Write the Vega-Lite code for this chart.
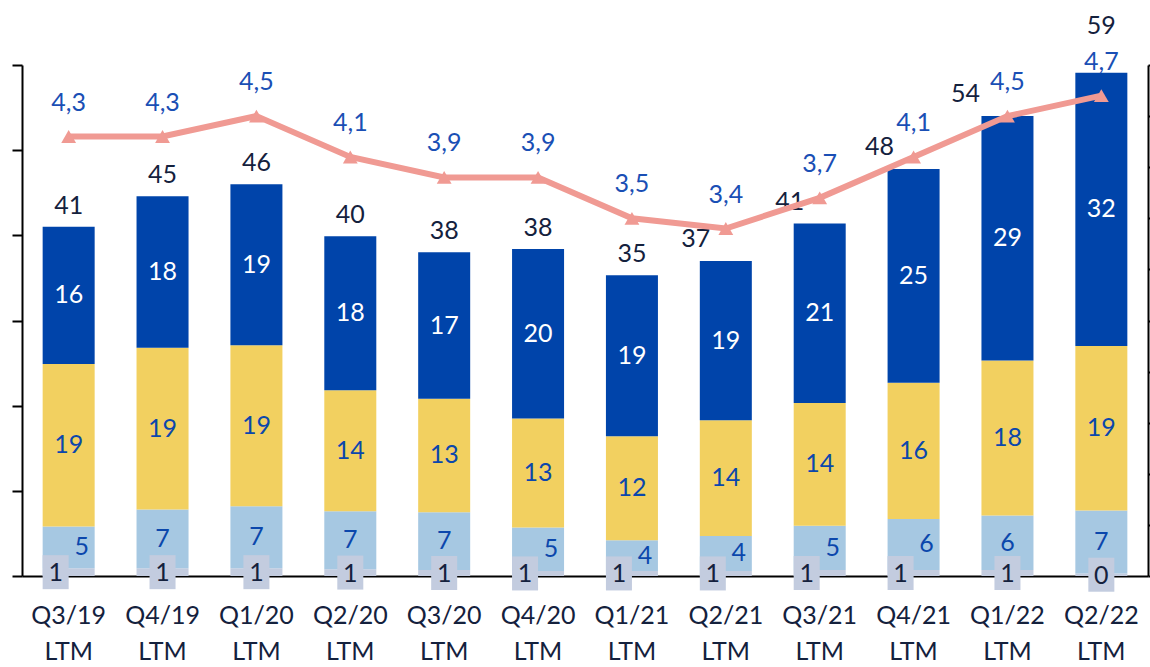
{
  "$schema": "https://vega.github.io/schema/vega-lite/v6.json",
  "width": 1126,
  "height": 511,
  "autosize": "none",
  "padding": {"left": 22, "top": 65, "right": 2, "bottom": 91},
  "background": "white",
  "datasets": {
    "seg": [
      {"q": "Q3/19 LTM", "seg": "s1", "v": 0.9}, {"q": "Q3/19 LTM", "seg": "s2", "v": 4.9}, {"q": "Q3/19 LTM", "seg": "s3", "v": 19.1}, {"q": "Q3/19 LTM", "seg": "s4", "v": 16.1},
      {"q": "Q4/19 LTM", "seg": "s1", "v": 0.9}, {"q": "Q4/19 LTM", "seg": "s2", "v": 6.9}, {"q": "Q4/19 LTM", "seg": "s3", "v": 19.0}, {"q": "Q4/19 LTM", "seg": "s4", "v": 17.8},
      {"q": "Q1/20 LTM", "seg": "s1", "v": 0.9}, {"q": "Q1/20 LTM", "seg": "s2", "v": 7.3}, {"q": "Q1/20 LTM", "seg": "s3", "v": 18.9}, {"q": "Q1/20 LTM", "seg": "s4", "v": 18.9},
      {"q": "Q2/20 LTM", "seg": "s1", "v": 0.8}, {"q": "Q2/20 LTM", "seg": "s2", "v": 6.8}, {"q": "Q2/20 LTM", "seg": "s3", "v": 14.2}, {"q": "Q2/20 LTM", "seg": "s4", "v": 18.1},
      {"q": "Q3/20 LTM", "seg": "s1", "v": 0.7}, {"q": "Q3/20 LTM", "seg": "s2", "v": 6.8}, {"q": "Q3/20 LTM", "seg": "s3", "v": 13.3}, {"q": "Q3/20 LTM", "seg": "s4", "v": 17.2},
      {"q": "Q4/20 LTM", "seg": "s1", "v": 0.6}, {"q": "Q4/20 LTM", "seg": "s2", "v": 5.1}, {"q": "Q4/20 LTM", "seg": "s3", "v": 12.8}, {"q": "Q4/20 LTM", "seg": "s4", "v": 19.9},
      {"q": "Q1/21 LTM", "seg": "s1", "v": 0.6}, {"q": "Q1/21 LTM", "seg": "s2", "v": 3.6}, {"q": "Q1/21 LTM", "seg": "s3", "v": 12.2}, {"q": "Q1/21 LTM", "seg": "s4", "v": 18.9},
      {"q": "Q2/21 LTM", "seg": "s1", "v": 0.6}, {"q": "Q2/21 LTM", "seg": "s2", "v": 4.1}, {"q": "Q2/21 LTM", "seg": "s3", "v": 13.6}, {"q": "Q2/21 LTM", "seg": "s4", "v": 18.7},
      {"q": "Q3/21 LTM", "seg": "s1", "v": 0.7}, {"q": "Q3/21 LTM", "seg": "s2", "v": 5.2}, {"q": "Q3/21 LTM", "seg": "s3", "v": 14.4}, {"q": "Q3/21 LTM", "seg": "s4", "v": 21.1},
      {"q": "Q4/21 LTM", "seg": "s1", "v": 0.7}, {"q": "Q4/21 LTM", "seg": "s2", "v": 6.0}, {"q": "Q4/21 LTM", "seg": "s3", "v": 16.0}, {"q": "Q4/21 LTM", "seg": "s4", "v": 25.1},
      {"q": "Q1/22 LTM", "seg": "s1", "v": 0.7}, {"q": "Q1/22 LTM", "seg": "s2", "v": 6.4}, {"q": "Q1/22 LTM", "seg": "s3", "v": 18.2}, {"q": "Q1/22 LTM", "seg": "s4", "v": 28.7},
      {"q": "Q2/22 LTM", "seg": "s1", "v": 0.3}, {"q": "Q2/22 LTM", "seg": "s2", "v": 7.4}, {"q": "Q2/22 LTM", "seg": "s3", "v": 19.3}, {"q": "Q2/22 LTM", "seg": "s4", "v": 32.1}
    ],
    "rate": [
      {"q": "Q3/19 LTM", "rate": 4.3}, {"q": "Q4/19 LTM", "rate": 4.3}, {"q": "Q1/20 LTM", "rate": 4.5},
      {"q": "Q2/20 LTM", "rate": 4.1}, {"q": "Q3/20 LTM", "rate": 3.9}, {"q": "Q4/20 LTM", "rate": 3.9},
      {"q": "Q1/21 LTM", "rate": 3.5}, {"q": "Q2/21 LTM", "rate": 3.4}, {"q": "Q3/21 LTM", "rate": 3.7},
      {"q": "Q4/21 LTM", "rate": 4.1}, {"q": "Q1/22 LTM", "rate": 4.5}, {"q": "Q2/22 LTM", "rate": 4.7}
    ]
  },
  "encoding": {
    "x": {
      "field": "q", "type": "nominal", "title": null,
      "scale": {
        "domain": ["Q3/19 LTM", "Q4/19 LTM", "Q1/20 LTM", "Q2/20 LTM", "Q3/20 LTM", "Q4/20 LTM", "Q1/21 LTM", "Q2/21 LTM", "Q3/21 LTM", "Q4/21 LTM", "Q1/22 LTM", "Q2/22 LTM"],
        "paddingInner": 0.446, "paddingOuter": 0.22
      },
      "axis": {
        "labelExpr": "split(datum.label, ' ')", "labelAngle": 0, "labels": true, "ticks": false, "tickSize": 0,
        "labelPadding": 27, "labelLineHeight": 36, "labelFontSize": 25, "labelColor": "#14213D", "labelFont": "Lato",
        "domainColor": "black", "domainWidth": 2
      }
    }
  },
  "layer": [
    {
      "data": {"name": "seg"},
      "transform": [
        {"stack": "v", "groupby": ["q"], "sort": [{"field": "seg"}], "as": ["v0", "v1"]},
        {"calculate": "(datum.v0 + datum.v1) / 2", "as": "mid"}
      ],
      "layer": [
        {
          "mark": {"type": "bar"},
          "encoding": {
            "y": {"field": "v1", "type": "quantitative", "title": null, "scale": {"domain": [0, 60]},
              "axis": {"values": [0, 10, 20, 30, 40, 50, 60], "orient": "left"}},
            "y2": {"field": "v0"},
            "color": {"field": "seg", "type": "nominal", "legend": null,
              "scale": {"domain": ["s1", "s2", "s3", "s4"], "range": ["#C3CCDF", "#A6C8E2", "#F2D060", "#0044AA"]}}
          }
        },
        {
          "transform": [{"filter": "datum.seg == 's1' && indexof(['Q3/19 LTM','Q4/20 LTM','Q1/21 LTM','Q2/21 LTM','Q3/21 LTM','Q4/21 LTM'], datum.q) >= 0"}],
          "mark": {"type": "point", "shape": "M-0.765,-1L0.765,-1L0.765,1L-0.765,1Z", "filled": true, "opacity": 1, "color": "#C3CCDF", "size": 1156, "strokeWidth": 0, "xOffset": -13},
          "encoding": {"y": {"field": "mid", "type": "quantitative", "title": null}}
        },
        {
          "transform": [{"filter": "datum.seg == 's1' && indexof(['Q3/19 LTM','Q4/20 LTM','Q1/21 LTM','Q2/21 LTM','Q3/21 LTM','Q4/21 LTM'], datum.q) < 0"}],
          "mark": {"type": "point", "shape": "M-0.765,-1L0.765,-1L0.765,1L-0.765,1Z", "filled": true, "opacity": 1, "color": "#C3CCDF", "size": 1156, "strokeWidth": 0},
          "encoding": {"y": {"field": "mid", "type": "quantitative", "title": null}}
        },
        {
          "transform": [{"filter": "datum.seg == 's1' && indexof(['Q3/19 LTM','Q4/20 LTM','Q1/21 LTM','Q2/21 LTM','Q3/21 LTM','Q4/21 LTM'], datum.q) >= 0"}],
          "mark": {"type": "text", "font": "Lato", "fontSize": 25, "color": "#14213D", "baseline": "middle", "dx": -13, "dy": 1},
          "encoding": {"y": {"field": "mid", "type": "quantitative", "title": null}, "text": {"field": "v", "type": "quantitative", "format": ".0f"}}
        },
        {
          "transform": [{"filter": "datum.seg == 's1' && indexof(['Q3/19 LTM','Q4/20 LTM','Q1/21 LTM','Q2/21 LTM','Q3/21 LTM','Q4/21 LTM'], datum.q) < 0"}],
          "mark": {"type": "text", "font": "Lato", "fontSize": 25, "color": "#14213D", "baseline": "middle", "dy": 1},
          "encoding": {"y": {"field": "mid", "type": "quantitative", "title": null}, "text": {"field": "v", "type": "quantitative", "format": ".0f"}}
        },
        {
          "transform": [{"filter": "datum.seg == 's2' && indexof(['Q3/19 LTM','Q4/20 LTM','Q1/21 LTM','Q2/21 LTM','Q3/21 LTM','Q4/21 LTM'], datum.q) >= 0"}],
          "mark": {"type": "text", "font": "Lato", "fontSize": 25, "color": "#0B47AC", "baseline": "middle", "dx": 13},
          "encoding": {"y": {"field": "mid", "type": "quantitative", "title": null}, "text": {"field": "v", "type": "quantitative", "format": ".0f"}}
        },
        {
          "transform": [{"filter": "datum.seg == 's2' && indexof(['Q3/19 LTM','Q4/20 LTM','Q1/21 LTM','Q2/21 LTM','Q3/21 LTM','Q4/21 LTM'], datum.q) < 0"}],
          "mark": {"type": "text", "font": "Lato", "fontSize": 25, "color": "#0B47AC", "baseline": "middle"},
          "encoding": {"y": {"field": "mid", "type": "quantitative", "title": null}, "text": {"field": "v", "type": "quantitative", "format": ".0f"}}
        },
        {
          "transform": [{"filter": "datum.seg == 's3'"}],
          "mark": {"type": "text", "font": "Lato", "fontSize": 25, "color": "#0B47AC", "baseline": "middle"},
          "encoding": {"y": {"field": "mid", "type": "quantitative", "title": null}, "text": {"field": "v", "type": "quantitative", "format": ".0f"}}
        },
        {
          "transform": [{"filter": "datum.seg == 's4'"}],
          "mark": {"type": "text", "font": "Lato", "fontSize": 25, "color": "white", "baseline": "middle"},
          "encoding": {"y": {"field": "mid", "type": "quantitative", "title": null}, "text": {"field": "v", "type": "quantitative", "format": ".0f"}}
        },
        {
          "transform": [{"filter": "indexof(['Q3/19 LTM','Q4/19 LTM','Q1/20 LTM','Q2/20 LTM','Q3/20 LTM','Q4/20 LTM','Q1/21 LTM'], datum.q) >= 0"}],
          "mark": {"type": "text", "font": "Lato", "fontSize": 25, "color": "#14213D", "baseline": "middle", "dy": -21},
          "encoding": {"y": {"aggregate": "max", "field": "v1", "type": "quantitative", "title": null}, "text": {"aggregate": "sum", "field": "v", "type": "quantitative", "format": ".0f"}}
        },
        {
          "transform": [{"filter": "datum.q == 'Q2/21 LTM'"}],
          "mark": {"type": "text", "font": "Lato", "fontSize": 25, "color": "#14213D", "baseline": "middle", "dx": -30, "dy": -22},
          "encoding": {"y": {"aggregate": "max", "field": "v1", "type": "quantitative", "title": null}, "text": {"aggregate": "sum", "field": "v", "type": "quantitative", "format": ".0f"}}
        },
        {
          "transform": [{"filter": "datum.q == 'Q3/21 LTM'"}],
          "mark": {"type": "text", "font": "Lato", "fontSize": 25, "color": "#14213D", "baseline": "middle", "dx": -30, "dy": -21},
          "encoding": {"y": {"aggregate": "max", "field": "v1", "type": "quantitative", "title": null}, "text": {"aggregate": "sum", "field": "v", "type": "quantitative", "format": ".0f"}}
        },
        {
          "transform": [{"filter": "datum.q == 'Q4/21 LTM'"}],
          "mark": {"type": "text", "font": "Lato", "fontSize": 25, "color": "#14213D", "baseline": "middle", "dx": -34, "dy": -22},
          "encoding": {"y": {"aggregate": "max", "field": "v1", "type": "quantitative", "title": null}, "text": {"aggregate": "sum", "field": "v", "type": "quantitative", "format": ".0f"}}
        },
        {
          "transform": [{"filter": "datum.q == 'Q1/22 LTM'"}],
          "mark": {"type": "text", "font": "Lato", "fontSize": 25, "color": "#14213D", "baseline": "middle", "dx": -42, "dy": -22},
          "encoding": {"y": {"aggregate": "max", "field": "v1", "type": "quantitative", "title": null}, "text": {"aggregate": "sum", "field": "v", "type": "quantitative", "format": ".0f"}}
        },
        {
          "transform": [{"filter": "datum.q == 'Q2/22 LTM'"}],
          "mark": {"type": "text", "font": "Lato", "fontSize": 25, "color": "#14213D", "baseline": "middle", "dy": -47},
          "encoding": {"y": {"aggregate": "max", "field": "v1", "type": "quantitative", "title": null}, "text": {"aggregate": "sum", "field": "v", "type": "quantitative", "format": ".0f"}}
        }
      ]
    },
    {
      "data": {"name": "rate"},
      "layer": [
        {
          "mark": {"type": "line", "color": "#F09A93", "strokeWidth": 6},
          "encoding": {
            "y": {"field": "rate", "type": "quantitative", "title": null, "scale": {"domain": [0, 5]},
              "axis": {"orient": "right", "values": [0, 0.5, 1, 1.5, 2, 2.5, 3, 3.5, 4, 4.5, 5]}}
          }
        },
        {
          "mark": {"type": "point", "shape": "triangle-up", "filled": true, "opacity": 1, "color": "#F09A93", "size": 220},
          "encoding": {"y": {"field": "rate", "type": "quantitative", "title": null}}
        },
        {
          "mark": {"type": "text", "font": "Lato", "fontSize": 25, "color": "#1A4FB5", "baseline": "middle", "dy": -34},
          "encoding": {"y": {"field": "rate", "type": "quantitative", "title": null}, "text": {"field": "rate", "type": "quantitative", "format": ".1f"}}
        }
      ]
    }
  ],
  "resolve": {"scale": {"y": "independent"}},
  "config": {
    "view": {"stroke": null},
    "font": "Lato",
    "locale": {"number": {"decimal": ",", "thousands": ".", "grouping": [3], "currency": ["", " €"]}},
    "axis": {"labels": false, "grid": false, "domainColor": "black", "domainWidth": 2, "tickColor": "black", "tickWidth": 2, "tickSize": 10}
  }
}
